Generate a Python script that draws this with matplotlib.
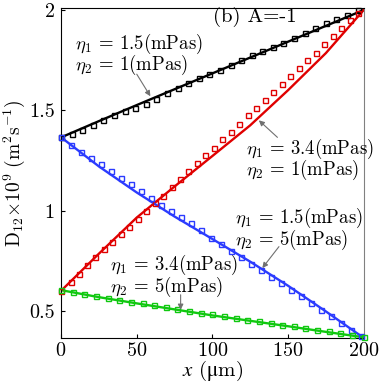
import matplotlib
matplotlib.use("Agg")
import matplotlib.pyplot as plt

# =========================================
#   DONNEES
# =========================================

# courbes theoriques
x_line = [0, 25, 50, 75, 100, 125, 150, 175, 200]
black_line = [1.365, 1.446, 1.526, 1.605, 1.684, 1.763, 1.842, 1.921, 2.0]
red_line = [0.6, 0.785, 0.965, 1.12, 1.272, 1.425, 1.60, 1.785, 2.0]
blue_line = [1.365, 1.22, 1.09, 0.97, 0.858, 0.745, 0.625, 0.497, 0.365]
green_line = [0.603, 0.568, 0.537, 0.507, 0.477, 0.45, 0.423, 0.395, 0.368]

# points de simulation
x_black = [0, 7, 14, 21, 28, 35, 42, 49, 56, 63, 70, 77, 84, 91, 98, 105, 112,
           119, 126, 133, 140, 147, 154, 161, 168, 175, 182, 189, 196]
black_pts = [1.365, 1.38, 1.40, 1.427, 1.45, 1.476, 1.494, 1.51, 1.533, 1.558,
             1.588, 1.61, 1.635, 1.66, 1.68, 1.703, 1.728, 1.749, 1.775, 1.797,
             1.816, 1.837, 1.862, 1.884, 1.91, 1.933, 1.955, 1.977, 2.0]

x_red = [0, 6.4, 11.7, 17.2, 22.7, 28.3, 33.8, 39.3, 45.0, 50.5, 56.1, 61.8,
         67.3, 73.0, 78.6, 84.2, 89.8, 95.4, 100.9, 106.5, 112.1, 117.7, 123.3,
         129.0, 134.7, 140.3, 145.9, 151.5, 157.0, 162.6, 168.3, 173.9, 179.5,
         185.2, 190.8, 196.5]
red_pts = [0.6, 0.643, 0.685, 0.727, 0.767, 0.81, 0.845, 0.885, 0.92, 0.958,
           1.0, 1.038, 1.075, 1.117, 1.155, 1.197, 1.238, 1.277, 1.313, 1.355,
           1.393, 1.434, 1.474, 1.513, 1.552, 1.592, 1.63, 1.672, 1.71, 1.75,
           1.788, 1.83, 1.868, 1.908, 1.95, 1.985]

x_blue = [0, 6.6, 13.2, 19.8, 26.4, 33, 39.6, 46.2, 52.8, 59.4, 66, 72.6, 79.2,
          85.8, 92.4, 99, 105.6, 112.2, 118.8, 125.4, 132, 138.6, 145.2, 151.8,
          158.4, 165, 171.6, 178.2, 184.8, 191.4, 198]
blue_pts = [1.365, 1.327, 1.293, 1.262, 1.232, 1.197, 1.163, 1.13, 1.096, 1.064,
            1.03, 1.0, 0.97, 0.94, 0.905, 0.865, 0.832, 0.8, 0.768, 0.735, 0.705,
            0.67, 0.637, 0.603, 0.572, 0.537, 0.505, 0.473, 0.44, 0.405, 0.375]

x_green = [0, 7.7, 15.4, 23.1, 30.8, 38.5, 46.2, 53.8, 61.5, 69.2, 76.9, 84.6,
           92.3, 100, 107.7, 115.4, 123.1, 130.8, 138.5, 146.2, 153.8, 161.5,
           169.2, 176.9, 184.6, 192.3, 200]
green_pts = [0.603, 0.593, 0.583, 0.574, 0.564, 0.555, 0.546, 0.537, 0.528,
             0.518, 0.509, 0.5, 0.491, 0.482, 0.473, 0.465, 0.456, 0.447, 0.439,
             0.43, 0.422, 0.414, 0.405, 0.397, 0.388, 0.379, 0.37]

# etiquettes des courbes : (texte ligne 1, texte ligne 2, x, y1, y2)
labels = [
    (r'$\eta_1$ = 1.5(mPas)', r'$\eta_2$ = 1(mPas)', 9, 1.83, 1.725),
    (r'$\eta_1$ = 3.4(mPas)', r'$\eta_2$ = 1(mPas)', 122, 1.305, 1.205),
    (r'$\eta_1$ = 1.5(mPas)', r'$\eta_2$ = 5(mPas)', 115, 0.965, 0.855),
    (r'$\eta_1$ = 3.4(mPas)', r'$\eta_2$ = 5(mPas)', 32.5, 0.73, 0.62),
]
# fleches : (pointe, queue)
arrows = [
    ((59, 1.57), (50, 1.68)),
    ((130.7, 1.45), (143, 1.365)),
    ((133, 0.713), (144, 0.82)),
    ((79, 0.505), (79, 0.58)),
]

# =========================================
#   STYLE
# =========================================
plt.rcParams['font.family'] = 'serif'
plt.rcParams['font.serif'] = ['cmr10', 'DejaVu Serif']
plt.rcParams['mathtext.fontset'] = 'cm'
plt.rcParams['axes.unicode_minus'] = False
plt.rcParams['axes.formatter.use_mathtext'] = True

C_BLACK = 'black'
C_RED = '#e00000'
C_BLUE = '#2b3bff'
C_GREEN = '#10c810'

fig = plt.figure(figsize=(3.82, 3.82), dpi=100)
ax = fig.add_axes([0.16, 0.115, 0.792, 0.864])

series = [
    (x_black, black_pts, black_line, C_BLACK),
    (x_red, red_pts, red_line, C_RED),
    (x_blue, blue_pts, blue_line, C_BLUE),
    (x_green, green_pts, green_line, C_GREEN),
]
for xs, pts, line, col in series:
    ax.plot(x_line, line, color=col, lw=1.7, zorder=2)
    ax.plot(xs, pts, ls='none', marker='s', ms=3.6, mfc='none', mec=col,
            mew=1.0, zorder=3, clip_on=False)

ax.set_xlim(0, 200)
ax.set_ylim(0.364, 2.01)
ax.set_xticks([0, 50, 100, 150, 200])
ax.set_yticks([0.5, 1, 1.5, 2])
ax.set_yticklabels(['0.5', '1', '1.5', '2'])
ax.tick_params(direction='in', length=3, labelsize=14.5)
ax.tick_params(axis='y', pad=4.5)
ax.tick_params(axis='x', pad=3)
ax.spines['right'].set_color('#808080')

# x (um) : mu droit -> police mathtext stix pour ce label
ax.set_xlabel(r'$x$ ($\mathrm{\mu}$m)', fontsize=15, labelpad=-1,
              math_fontfamily='stix')
ax.set_ylabel(r'$\mathrm{D_{12}{\times}10^{9}\ (m^{2}s^{-1})}$', fontsize=14)
ax.yaxis.set_label_coords(-0.113, 0.5)

ax.text(100.5, 1.94, '(b) A=-1', fontsize=15)

# annotations
arrow = dict(arrowstyle='-|>', color='#707070', lw=0.8, mutation_scale=8,
             shrinkA=0, shrinkB=0)
for head, tail in arrows:
    ax.annotate('', xy=head, xytext=tail, arrowprops=arrow)
for l1, l2, xt, y1, y2 in labels:
    ax.text(xt, y1, l1, fontsize=13.5, va='center')
    ax.text(xt, y2, l2, fontsize=13.5, va='center')

plt.savefig('out.png', dpi=100)
plt.close()
